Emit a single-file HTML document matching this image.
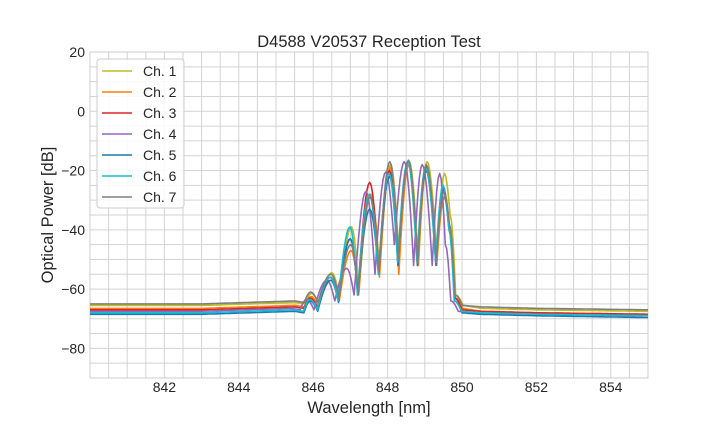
<!DOCTYPE html>
<html><head><meta charset="utf-8">
<style>
body{margin:0;background:#fff;}
svg text{font-family:"Liberation Sans",Arial,sans-serif;fill:#262626;}
</style></head>
<body>
<svg id="chart" width="720" height="432" viewBox="0 0 720 432" xmlns="http://www.w3.org/2000/svg">
<rect x="0" y="0" width="720" height="432" fill="#fff"/>
<g id="grid"></g>
<g id="series"></g>
<g id="ticks"></g>
<text x="369" y="47" text-anchor="middle" font-size="16.5">D4588 V20537 Reception Test</text>
<text x="369" y="413" text-anchor="middle" font-size="16.5">Wavelength [nm]</text>
<text x="53" y="215" text-anchor="middle" font-size="16.5" transform="rotate(-90 53 215)">Optical Power [dB]</text>
<g id="legend"></g>
</svg>
<script>
const wl = [840,843,845.5,845.75,845.92,846.12,846.47,846.68,847.0,847.2,847.52,847.76,848.05,848.28,848.55,848.8,849.03,849.3,849.5,849.65,849.8,850.0,850.5,852,855];
const ch1 = [-65.5,-65.5,-64.5,-65,-61.5,-65,-54.5,-63,-39,-61,-28,-54,-18,-50,-17,-52,-17,-50,-21,-35,-62,-65.5,-66.5,-67,-67.5];
const ch2 = [-66.5,-66.5,-65.5,-66,-62.5,-66,-57,-64,-47,-62,-28,-56,-19,-55,-18,-52,-19,-52,-29,-40,-63,-66.5,-67.5,-68,-68.5];
const ch3 = [-67,-67,-66,-66.5,-63,-66.5,-56,-64,-43,-62,-24,-54,-20,-52,-17,-51,-18.5,-51,-26,-38,-63,-67,-67.5,-68,-68.5];
const ch4 = [-67.5,-67.5,-66.5,-67,-63.5,-67,-57,-64,-53,-62,-27,-55,-20.5,-45,-17,-52,-18,-52,-21,-45,-64,-67.5,-68,-68.5,-69];
const ch5 = [-68.5,-68.5,-67.5,-68,-64,-67.5,-57,-64.5,-43,-62,-33,-55,-22,-52,-17,-52,-20,-52,-27,-40,-64,-68,-68.5,-69,-69.6];
const ch6 = [-68,-68,-67,-67.5,-63.5,-67,-56,-64,-39,-62,-28,-55,-21,-51,-17,-51,-19,-51,-25,-39,-64,-67.5,-68,-68.5,-69];
const ch7 = [-65,-65,-64,-64.5,-61,-64.5,-55,-63,-45,-61,-29,-54,-17,-50,-16.5,-51,-18,-51,-27,-38,-62,-65.5,-66,-66.5,-67];
const chShift = [0.03,0.02,0,-0.1,0,-0.01,0.01];
const seriesNames = ["Ch. 1","Ch. 2","Ch. 3","Ch. 4","Ch. 5","Ch. 6","Ch. 7"];
const seriesColors = ["#bcbd22","#ff7f0e","#d62728","#9467bd","#1f77b4","#17becf","#7f7f7f"];
const xTicks = [842,844,846,848,850,852,854];
const yTicks = [20,0,-20,-40,-60,-80];

const L=90,R=648,T=52,B=378;
const xMin=840,xMax=855,yMax=20,yMin=-90;
const sx=v=>L+(v-xMin)/(xMax-xMin)*(R-L);
const sy=v=>T+(yMax-v)/(yMax-yMin)*(B-T);
const NS="http://www.w3.org/2000/svg";
function mk(tag,attrs,parent){const e=document.createElementNS(NS,tag);for(const k in attrs)e.setAttribute(k,attrs[k]);parent.appendChild(e);return e;}

const grid=document.getElementById('grid');
for(let v=840;v<=855.001;v+=0.5){
  const l=mk('line',{x1:sx(v),x2:sx(v),y1:T,y2:B,stroke:'#d3d3d3','stroke-width':1},grid);
  
  
}
for(let v=20;v>=-90;v-=5){
  const l=mk('line',{x1:L,x2:R,y1:sy(v),y2:sy(v),stroke:'#d3d3d3','stroke-width':1},grid);
  
  
}
const frame=mk('rect',{x:L,y:T,width:R-L,height:B-T,fill:'none',stroke:'#cccccc','stroke-width':1},grid);



const ticks=document.getElementById('ticks');
xTicks.forEach(v=>{
  const t=mk('text',{x:sx(v),y:B+14,'text-anchor':'middle','font-size':14},ticks);
  t.textContent=v;
  
  
});
yTicks.forEach(v=>{
  const t=mk('text',{x:L-5,y:sy(v)+5,'text-anchor':'end','font-size':14},ticks);
  t.textContent=(v<0?'\u2212'+(-v):v);
  
  
});

// eased interpolation: rounded at local maxima, sharp at minima
function pathFor(xs,ys){
  let d='M'+sx(xs[0]).toFixed(1)+','+sy(ys[0]).toFixed(1);
  for(let i=0;i<xs.length-1;i++){
    const x0=xs[i],x1=xs[i+1],y0=ys[i],y1=ys[i+1];
    const n=Math.max(2,Math.ceil((sx(x1)-sx(x0))/1.5));
    for(let k=1;k<=n;k++){
      const t=k/n;
      let f;
      if(Math.abs(y1-y0)<3) f=t;
      else if(y1>y0) f=Math.sin(t*Math.PI/2);
      else f=1-Math.cos(t*Math.PI/2);
      d+=' L'+sx(x0+(x1-x0)*t).toFixed(1)+','+sy(y0+(y1-y0)*f).toFixed(1);
    }
  }
  return d;
}
const allSeries=[ch1,ch2,ch3,ch4,ch5,ch6,ch7];
const sg=document.getElementById('series');
const clip=mk('clipPath',{id:'pc'},mk('defs',{},sg));
mk('rect',{x:L,y:T,width:R-L,height:B-T},clip);
allSeries.forEach((ys,i)=>{
  const xs=wl.map((x,j)=>(j===0||j===wl.length-1)?x:x+chShift[i]);
  const p=mk('path',{d:pathFor(xs,ys),fill:'none',stroke:seriesColors[i],'stroke-width':1.6,'clip-path':'url(#pc)','stroke-linejoin':'round'},sg);
  
  
});

const lg=document.getElementById('legend');
const box=mk('rect',{x:97,y:59,width:87,height:149,rx:3,fill:'#fff','fill-opacity':0.85,stroke:'#cccccc','stroke-width':1},lg);


seriesNames.forEach((n,i)=>{
  const y=71+i*21;
  const l=mk('line',{x1:102,x2:132,y1:y,y2:y,stroke:seriesColors[i],'stroke-width':1.6},lg);
  
  
  const t=mk('text',{x:143,y:y+5,'font-size':14},lg);
  t.textContent=n;
  
  
});
</script>
</body></html>
